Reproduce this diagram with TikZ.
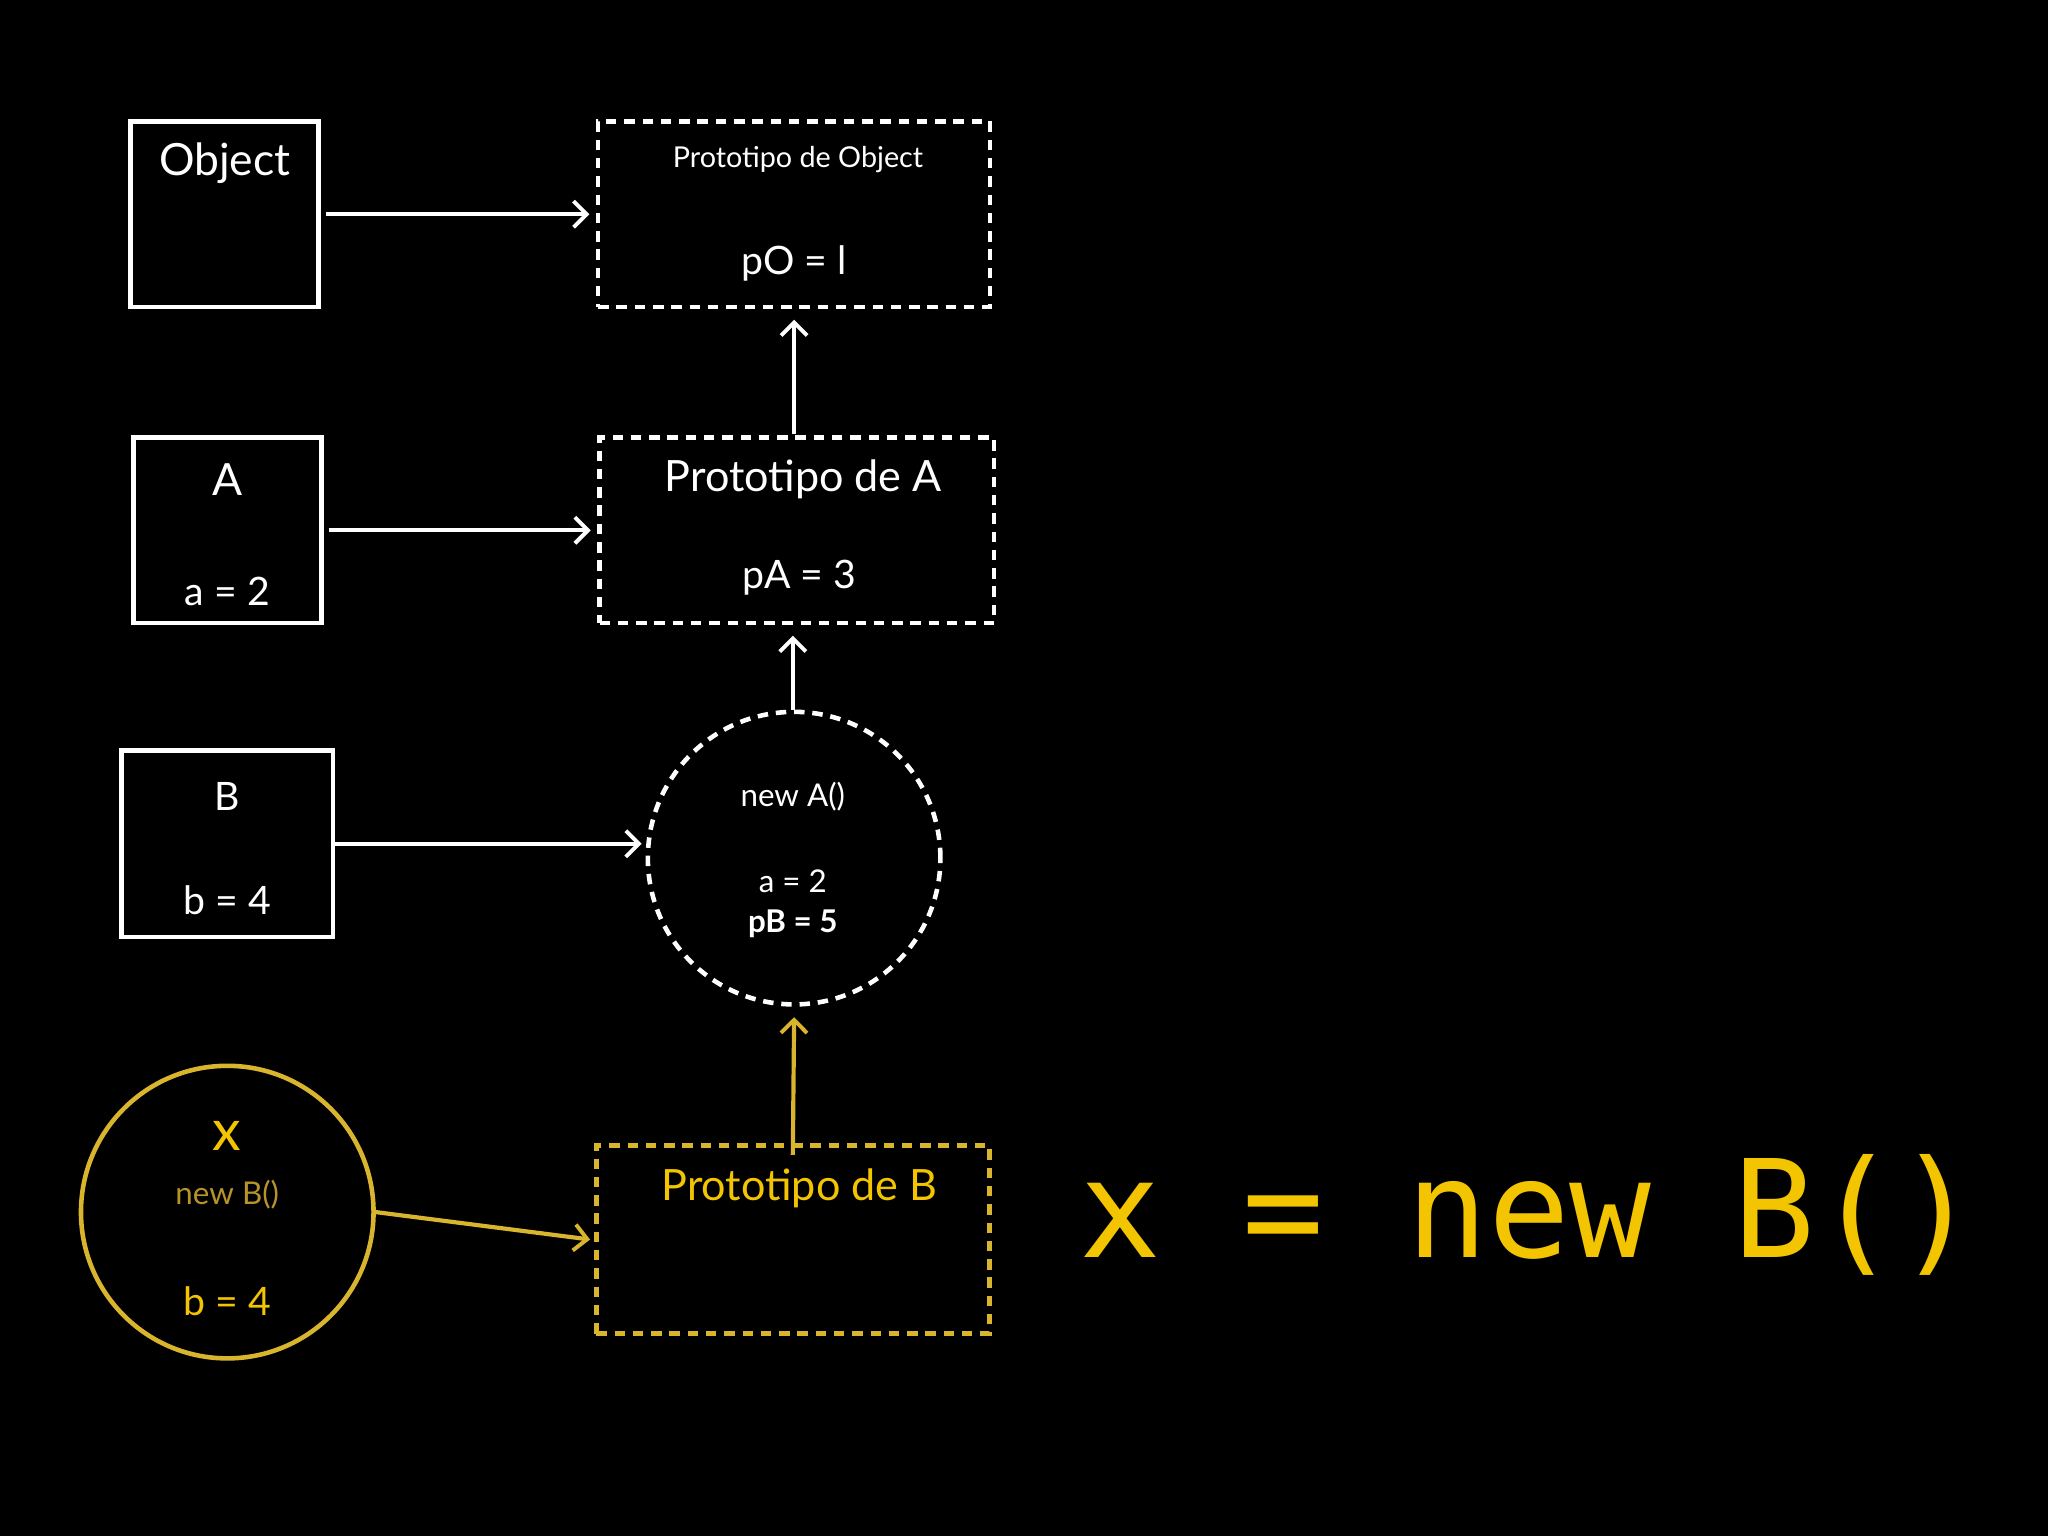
\documentclass[tikz,border=0pt]{standalone}
\usepackage{fontspec}
\setmainfont{Lato}
\newfontfamily\monofont{DejaVu Sans Mono}
\usetikzlibrary{arrows.meta}
\definecolor{yel}{HTML}{F2C500}
\definecolor{yelbox}{HTML}{D8B52C}
\definecolor{brn}{HTML}{B8932A}
\begin{document}
\begin{tikzpicture}[x=1pt,y=-1pt,
  box/.style={draw=white,line width=3.5pt,minimum width=0pt},
  dbox/.style={draw=white,line width=3.5pt,dash pattern=on 8pt off 6pt},
  arr/.style={line width=3.2pt,-{Straight Barb[length=10pt,width=20pt,line width=3pt]}},
  t/.style={text=white,inner sep=0pt},
]
\fill[black] (0,0) rectangle (1568,1176);
\useasboundingbox (0,0) rectangle (1568,1176);
% boxes
\node[box,minimum width=144pt,minimum height=142pt] (obj) at (172,164) {};
\node[t,font=\fontsize{34}{40}\selectfont] (objt) at (172,125) {Object};
\node[dbox,minimum width=300pt,minimum height=142pt] (po) at (608,164) {};
\node[t,font=\fontsize{22}{26}\selectfont] (pot) at (611,122) {Prototipo de Object};
\node[t,font=\fontsize{30}{36}\selectfont] (pov) at (608,202) {pO = l};
\node[box,minimum width=144pt,minimum height=142pt] (a) at (174,406) {};
\node[t,font=\fontsize{34}{40}\selectfont] (at) at (174,367) {A};
\node[t,font=\fontsize{30}{36}\selectfont] (av) at (174,453) {a = 2};
\node[dbox,minimum width=302pt,minimum height=142pt] (pa) at (610,406) {};
\node[t,font=\fontsize{33}{40}\selectfont] (pat) at (615,367) {Prototipo de A};
\node[t,font=\fontsize{30}{36}\selectfont] (pav) at (612,442) {pA = 3};
\node[box,minimum width=162pt,minimum height=143pt] (b) at (174,646) {};
\node[t,font=\fontsize{30}{36}\selectfont] (bt) at (174,610) {B};
\node[t,font=\fontsize{30}{36}\selectfont] (bv) at (174,689) {b = 4};
\node[dbox,circle,minimum size=224pt,inner sep=0pt] (na) at (608,657) {};
\node[t,font=\fontsize{24}{28}\selectfont] (nat) at (607,610) {new A()};
\node[t,font=\fontsize{24}{28}\selectfont] (nav) at (607,675) {a = 2};
\node[t,font=\fontsize{24}{28}\selectfont\bfseries] (nab) at (607,707) {pB = 5};
\node[draw=yelbox,line width=3.5pt,circle,minimum size=224pt,inner sep=0pt] (x) at (174,928) {};
\node[inner sep=0pt,text=yel,font=\fontsize{44}{50}\selectfont] (xt) at (174,870) {x};
\node[inner sep=0pt,text=brn,font=\fontsize{24}{28}\selectfont] (xn) at (174,915) {new B()};
\node[inner sep=0pt,text=yel,font=\fontsize{30}{36}\selectfont] (xv) at (174,996) {b = 4};
\node[draw=yelbox,line width=3.5pt,dash pattern=on 8pt off 6pt,minimum width=301pt,minimum height=144pt] (pb) at (607,949) {};
\node[inner sep=0pt,text=yel,font=\fontsize{33}{40}\selectfont] (pbt) at (612,910) {Prototipo de B};
\node[inner sep=0pt,text=yel,font=\monofont\fontsize{104}{110}\selectfont,anchor=west] (code) at (826,930) {x = new B()};
% arrows
\draw[arr,white] (obj.east) ++(4,0) -- ([xshift=-5pt]po.west);
\draw[arr,white] ([xshift=4pt]a.east) -- ([xshift=-5pt]pa.west);
\draw[arr,white] (b.east) -- ([xshift=-3pt]na.west |- b.east);
\draw[arr,white] ([xshift=-2pt,yshift=1pt]pa.north) -- ([xshift=0pt,yshift=-8pt]po.south);
\draw[arr,white] ([xshift=-1pt]na.north) -- ([xshift=-3pt,yshift=-8pt]pa.south);
\draw[arr,yelbox] (x.east) -- ([xshift=-3pt]pb.west);
\draw[arr,yelbox] ([yshift=-9pt]pb.north) -- ([yshift=-8pt]na.south);
\end{tikzpicture}
\end{document}
